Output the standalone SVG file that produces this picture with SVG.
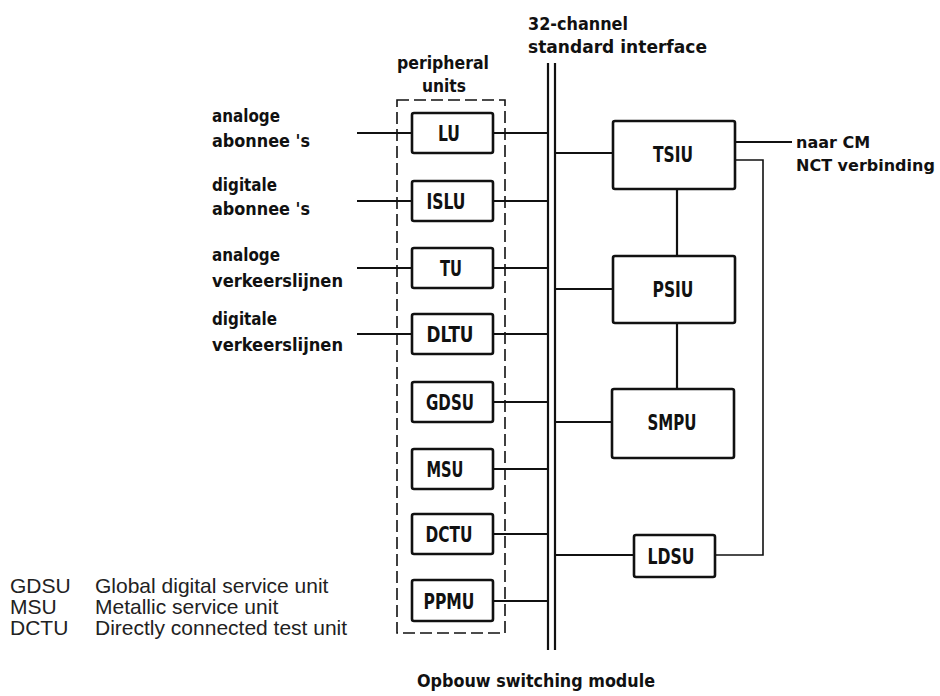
<svg xmlns="http://www.w3.org/2000/svg" width="940" height="696" viewBox="0 0 940 696">
<style>
.box{fill:none;stroke:#111;stroke-width:2.6;stroke-linejoin:round}
.ln{fill:none;stroke:#111;stroke-width:2.2}
.thin{fill:none;stroke:#111;stroke-width:1.6}
.dash{fill:none;stroke:#111;stroke-width:1.6;stroke-dasharray:12 5}
.t{font-family:"DejaVu Sans","Liberation Sans",sans-serif;font-weight:bold;font-size:17px;fill:#111}
.tr{font-family:"DejaVu Sans","Liberation Sans",sans-serif;font-weight:bold;font-size:16px;fill:#111}
.bl{font-family:"DejaVu Sans","Liberation Sans",sans-serif;font-weight:bold;font-size:21px;fill:#111;text-anchor:middle}
.lg{font-family:"Liberation Sans",Arial,sans-serif;font-size:21px;fill:#222}
</style>
<rect width="940" height="696" fill="#fff"/>

<g id="titles">
<text class="t" x="528" y="30" textLength="100" lengthAdjust="spacingAndGlyphs">32-channel</text>
<text class="t" x="528" y="53" textLength="179" lengthAdjust="spacingAndGlyphs">standard interface</text>
<text class="t" x="397" y="69" textLength="92" lengthAdjust="spacingAndGlyphs">peripheral</text>
<text class="t" x="422" y="92" textLength="44" lengthAdjust="spacingAndGlyphs">units</text>
<text class="t" x="417" y="687" textLength="238" lengthAdjust="spacingAndGlyphs">Opbouw switching module</text>
</g>

<g id="inputs">
<text class="t" x="212" y="122" textLength="68" lengthAdjust="spacingAndGlyphs">analoge</text>
<text class="t" x="212" y="147" textLength="98" lengthAdjust="spacingAndGlyphs">abonnee 's</text>
<text class="t" x="212" y="191" textLength="65" lengthAdjust="spacingAndGlyphs">digitale</text>
<text class="t" x="212" y="215" textLength="98" lengthAdjust="spacingAndGlyphs">abonnee 's</text>
<text class="t" x="212" y="261" textLength="68" lengthAdjust="spacingAndGlyphs">analoge</text>
<text class="t" x="212" y="287" textLength="131" lengthAdjust="spacingAndGlyphs">verkeerslijnen</text>
<text class="t" x="212" y="325" textLength="65" lengthAdjust="spacingAndGlyphs">digitale</text>
<text class="t" x="212" y="351" textLength="131" lengthAdjust="spacingAndGlyphs">verkeerslijnen</text>
</g>

<g id="peripheral-units">
<rect class="dash" x="397" y="100" width="108" height="533"/>
</g>

<g id="connectors">
<line class="ln" x1="548" y1="63" x2="548" y2="650"/>
<line class="ln" x1="555" y1="63" x2="555" y2="650"/>
<line class="ln" x1="357" y1="133" x2="412" y2="133"/>
<line class="ln" x1="357" y1="201" x2="412" y2="201"/>
<line class="ln" x1="357" y1="268" x2="412" y2="268"/>
<line class="ln" x1="357" y1="334" x2="412" y2="334"/>
<line class="ln" x1="493" y1="133" x2="548" y2="133"/>
<line class="ln" x1="493" y1="201" x2="548" y2="201"/>
<line class="ln" x1="493" y1="268" x2="548" y2="268"/>
<line class="ln" x1="493" y1="334" x2="548" y2="334"/>
<line class="ln" x1="493" y1="402" x2="548" y2="402"/>
<line class="ln" x1="493" y1="469" x2="548" y2="469"/>
<line class="ln" x1="493" y1="534" x2="548" y2="534"/>
<line class="ln" x1="493" y1="601" x2="548" y2="601"/>
<line class="ln" x1="555" y1="153" x2="613" y2="153"/>
<line class="ln" x1="555" y1="289" x2="613" y2="289"/>
<line class="ln" x1="555" y1="422" x2="612" y2="422"/>
<line class="ln" x1="555" y1="555" x2="634" y2="555"/>
<line class="ln" x1="677" y1="189" x2="677" y2="256"/>
<line class="ln" x1="677" y1="323" x2="677" y2="389"/>
<line class="ln" x1="735" y1="142" x2="792" y2="142"/>
<polyline class="thin" points="715,555 763,555 763,160 735,160"/>
</g>

<g id="LU"><rect class="box" x="412" y="113" width="81" height="40" rx="2"/><text class="bl" x="449" y="141" textLength="22" lengthAdjust="spacingAndGlyphs">LU</text></g>
<g id="ISLU"><rect class="box" x="412" y="181" width="81" height="40" rx="2"/><text class="bl" x="446" y="209" textLength="39" lengthAdjust="spacingAndGlyphs">ISLU</text></g>
<g id="TU"><rect class="box" x="412" y="248" width="81" height="40" rx="2"/><text class="bl" x="451" y="276" textLength="22" lengthAdjust="spacingAndGlyphs">TU</text></g>
<g id="DLTU"><rect class="box" x="412" y="314" width="81" height="40" rx="2"/><text class="bl" x="450" y="342" textLength="47" lengthAdjust="spacingAndGlyphs">DLTU</text></g>
<g id="GDSU"><rect class="box" x="412" y="382" width="81" height="40" rx="2"/><text class="bl" x="450" y="410" textLength="48" lengthAdjust="spacingAndGlyphs">GDSU</text></g>
<g id="MSU"><rect class="box" x="412" y="449" width="81" height="40" rx="2"/><text class="bl" x="445" y="477" textLength="37" lengthAdjust="spacingAndGlyphs">MSU</text></g>
<g id="DCTU"><rect class="box" x="412" y="514" width="81" height="40" rx="2"/><text class="bl" x="449" y="542" textLength="47" lengthAdjust="spacingAndGlyphs">DCTU</text></g>
<g id="PPMU"><rect class="box" x="412" y="580" width="81" height="41" rx="2"/><text class="bl" x="449" y="609" textLength="51" lengthAdjust="spacingAndGlyphs">PPMU</text></g>

<g id="TSIU"><rect class="box" x="613" y="121" width="122" height="68" rx="2"/><text class="bl" x="673" y="162" textLength="40" lengthAdjust="spacingAndGlyphs">TSIU</text></g>
<g id="PSIU"><rect class="box" x="613" y="256" width="122" height="67" rx="2"/><text class="bl" x="673" y="297" textLength="41" lengthAdjust="spacingAndGlyphs">PSIU</text></g>
<g id="SMPU"><rect class="box" x="612" y="389" width="122" height="69" rx="2"/><text class="bl" x="672" y="430" textLength="49" lengthAdjust="spacingAndGlyphs">SMPU</text></g>
<g id="LDSU"><rect class="box" x="634" y="535" width="81" height="42" rx="2"/><text class="bl" x="671" y="564" textLength="47" lengthAdjust="spacingAndGlyphs">LDSU</text></g>

<g id="naar-CM">
<text class="tr" x="796" y="148">naar CM</text>
<text class="tr" x="796" y="171">NCT verbinding</text>
</g>

<g id="legend">
<text class="lg" x="10" y="593">GDSU</text><text class="lg" x="95" y="593">Global digital service unit</text>
<text class="lg" x="10" y="614">MSU</text><text class="lg" x="95" y="614">Metallic service unit</text>
<text class="lg" x="10" y="635">DCTU</text><text class="lg" x="95" y="635">Directly connected test unit</text>
</g>
</svg>
